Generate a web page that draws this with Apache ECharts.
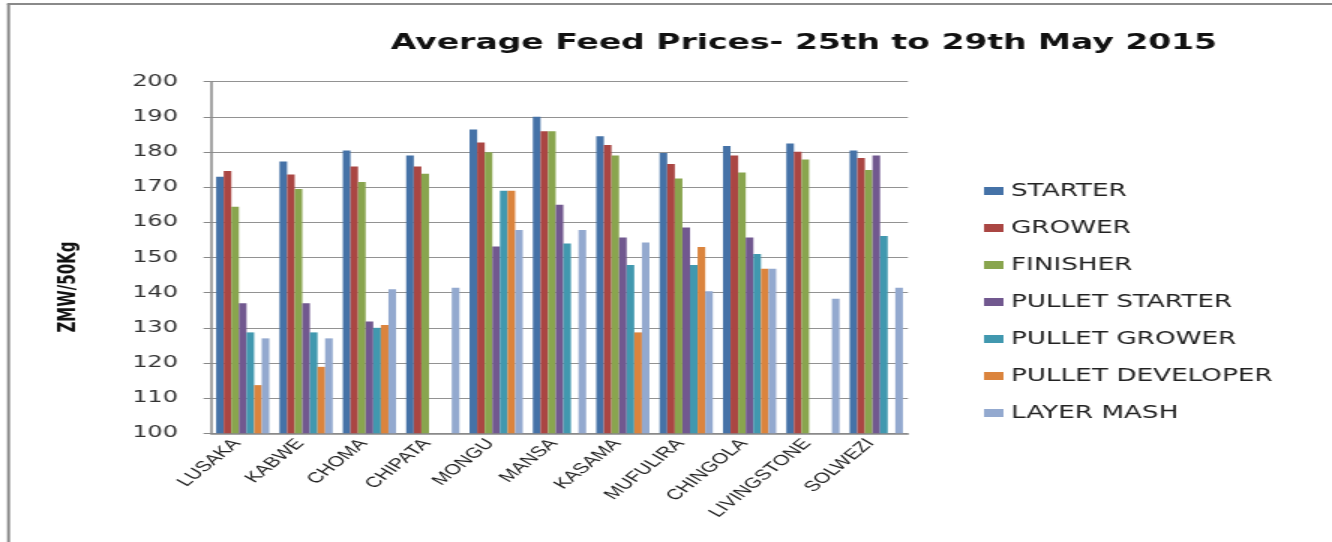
<!DOCTYPE html>
<html>
<head>
<meta charset="utf-8">
<script src="https://cdn.jsdelivr.net/npm/echarts@6/dist/echarts.min.js"></script>
<style>
  html, body { margin: 0; padding: 0; background: #fff; overflow: hidden; }
  #wrap { width: 1332px; height: 542px; overflow: hidden; }
  #chart { width: 888px; height: 542px; transform: scaleX(1.5); transform-origin: 0 0; }
</style>
</head>
<body>
<div id="wrap"><div id="chart"></div></div>
<script>
// ---- data ----
const cities = ['LUSAKA', 'KABWE', 'CHOMA', 'CHIPATA', 'MONGU', 'MANSA', 'KASAMA', 'MUFULIRA', 'CHINGOLA', 'LIVINGSTONE', 'SOLWEZI'];
const seriesNames = ['STARTER', 'GROWER', 'FINISHER', 'PULLET STARTER', 'PULLET GROWER', 'PULLET DEVELOPER', 'LAYER MASH'];
const starter         = [173, 177.3, 180.4, 179, 186.4, 190, 184.5, 179.7, 181.7, 182.4, 180.4];
const grower          = [174.6, 173.6, 175.9, 175.9, 182.7, 185.9, 182, 176.6, 179, 180.1, 178.3];
const finisher        = [164.4, 169.5, 171.5, 173.8, 179.9, 185.9, 179, 172.5, 174.2, 177.9, 174.9];
const pulletStarter   = [137, 137, 131.8, 0, 153.1, 165, 155.7, 158.5, 155.7, 0, 179];
const pulletGrower    = [128.7, 128.7, 130, 0, 169, 154, 147.9, 147.9, 151, 0, 156.1];
const pulletDeveloper = [113.7, 118.9, 130.8, 0, 169, 0, 128.7, 153, 146.8, 0, 0];
const layerMash       = [127, 127, 141, 141.4, 157.8, 157.8, 154.3, 140.4, 146.8, 138.3, 141.4];
const yTicks = { min: 100, max: 200, interval: 10 };
const chartTitle = 'Average Feed Prices- 25th to 29th May 2015';
const yName = 'ZMW/50Kg';

const colors = ['#4572A7', '#AA4643', '#89A54E', '#71588F', '#4198AF', '#DB843D', '#93A9CF'];
const allValues = [starter, grower, finisher, pulletStarter, pulletGrower, pulletDeveloper, layerMash];

const chart = echarts.init(document.getElementById('chart'), null, { renderer: 'canvas' });
const option = {
  animation: false,
  backgroundColor: '#fff',
  color: colors,
  title: {
    text: chartTitle,
    left: 531,
    top: 27,
    textAlign: 'center',
    textStyle: { fontFamily: 'DejaVu Sans', fontWeight: 'bold', fontSize: 22, color: '#111' }
  },
  legend: {
    orient: 'vertical',
    left: 656,
    top: 182,
    padding: 0,
    itemWidth: 13,
    itemHeight: 8,
    itemGap: 19,
    icon: 'rect',
    data: seriesNames,
    textStyle: { fontFamily: 'DejaVu Sans', fontSize: 17.5, lineHeight: 17, color: '#222' }
  },
  grid: { left: 140.7, right: 282.7, top: 81.7, bottom: 108.7 },
  xAxis: {
    type: 'category',
    data: cities,
    axisLine: { show: true, lineStyle: { color: '#888', width: 1.5 } },
    axisTick: { show: false },
    axisLabel: {
      rotate: 50,
      margin: 3,
      interval: 0,
      padding: [0, 6, 0, 0],
      fontFamily: 'Liberation Sans',
      fontSize: 14.5,
      color: '#222'
    },
    splitLine: { show: false }
  },
  yAxis: {
    type: 'value',
    min: yTicks.min,
    max: yTicks.max,
    interval: yTicks.interval,
    axisLine: { show: true, lineStyle: { color: '#888', width: 1.5 } },
    axisTick: { show: true, inside: false, length: 5, lineStyle: { color: '#888' } },
    axisLabel: { margin: 22, fontFamily: 'DejaVu Sans', fontSize: 16, color: '#333' },
    splitLine: { show: true, lineStyle: { color: '#929292', width: 1 } }
  },
  graphic: [
    { type: 'line', shape: { x1: 5.7, y1: 4, x2: 5.7, y2: 542 }, style: { stroke: '#8a8a8a', lineWidth: 2 } },
    { type: 'line', shape: { x1: 4.7, y1: 4, x2: 888, y2: 4 }, style: { stroke: '#8a8a8a', lineWidth: 2 } },
    {
      type: 'text',
      x: 46, y: 287,
      rotation: Math.PI / 2,
      style: {
        text: yName,
        fontFamily: 'DejaVu Sans',
        fontWeight: 'bold',
        fontSize: 15,
        fill: '#111',
        align: 'center',
        verticalAlign: 'middle'
      }
    }
  ],
  series: seriesNames.map((name, i) => ({
    name: name,
    type: 'bar',
    data: allValues[i],
    barGap: '0%',
    barCategoryGap: '16%',
    clip: true,
    itemStyle: { color: colors[i] }
  }))
};
chart.setOption(option);
</script>
</body>
</html>
